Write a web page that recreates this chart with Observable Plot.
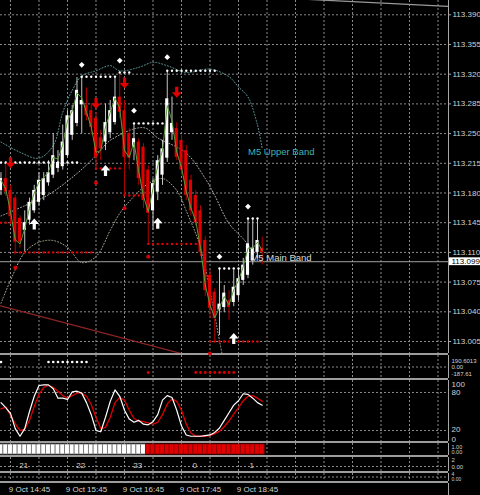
<!DOCTYPE html>
<html>
<head>
<meta charset="utf-8">
<script src="https://cdn.jsdelivr.net/npm/d3@7"></script>
<script src="https://cdn.jsdelivr.net/npm/@observablehq/plot@0.6"></script>
<style>
  html, body { margin: 0; padding: 0; background: #000; }
  #chart { width: 480px; height: 495px; overflow: hidden; background: #000; }
  #chart svg { display: block; }
  .sep { height: 2px; width: 448px; background: #9c9c9c; }
</style>
</head>
<body>
<div id="chart"></div>
<script>
// ---------- USDJPY M5, 9 Oct ----------
const barStart = Date.UTC(2018, 9, 9, 14, 40);   // first visible M5 bar
const barMinutes = 5;
const visibleBars = [-0.105, 94.21];                // left / right edge of the window, in bars

const open  = [113.183,113.197,113.183,113.174,113.150,113.136,113.148,113.159,113.169,113.177,
               113.192,113.201,113.209,113.211,113.224,113.248,113.262,113.284,113.283,113.277,
               113.268,113.245,113.240,113.251,113.263,113.293,113.277,113.250,113.234,113.240,
               113.234,113.207,113.159,113.181,113.201,113.221,113.251,113.256,113.242,113.230,
               113.195,113.177,113.159,113.124,113.083,113.063,113.042,113.045,113.053,113.051,
               113.059,113.077,113.083,113.100,113.110,113.115];
const high  = [113.204,113.216,113.189,113.177,113.153,113.159,113.174,113.189,113.204,113.204,
               113.218,113.250,113.230,113.260,113.277,113.283,113.316,113.317,113.304,113.285,
               113.275,113.254,113.285,113.289,113.315,113.322,113.289,113.256,113.262,113.244,
               113.238,113.212,113.197,113.224,113.242,113.324,113.293,113.263,113.248,113.236,
               113.201,113.183,113.165,113.129,113.089,113.067,113.091,113.071,113.065,113.089,
               113.091,113.103,113.150,113.150,113.150,113.128];
const low   = [113.177,113.176,113.145,113.110,113.115,113.110,113.142,113.156,113.165,113.171,
               113.188,113.197,113.204,113.207,113.221,113.242,113.258,113.250,113.265,113.248,
               113.209,113.218,113.230,113.244,113.260,113.268,113.177,113.207,113.218,113.189,
               113.162,113.120,113.136,113.171,113.189,113.216,113.242,113.218,113.201,113.171,
               113.153,113.141,113.105,113.058,113.032,113.005,113.012,113.039,113.030,113.046,
               113.053,113.071,113.079,113.095,113.103,113.095];
const close = [113.197,113.181,113.152,113.122,113.122,113.145,113.169,113.183,113.195,113.197,
               113.204,113.224,113.216,113.240,113.271,113.277,113.301,113.289,113.271,113.257,
               113.222,113.232,113.263,113.277,113.293,113.275,113.222,113.221,113.244,113.197,
               113.171,113.156,113.191,113.218,113.232,113.291,113.262,113.222,113.207,113.177,
               113.159,113.145,113.110,113.065,113.044,113.032,113.049,113.062,113.045,113.069,
               113.079,113.095,113.120,113.115,113.124,113.110];
const fastMA = [113.195,113.185,113.158,113.125,113.120,113.138,113.162,113.180,113.193,113.198,
                113.205,113.222,113.220,113.237,113.265,113.277,113.298,113.292,113.275,113.258,
                113.228,113.230,113.258,113.275,113.292,113.280,113.230,113.222,113.240,113.205,
                113.176,113.158,113.185,113.212,113.230,113.283,113.265,113.228,113.210,113.182,
                113.162,113.147,113.115,113.072,113.048,113.033,113.045,113.058,113.048,113.066,
                113.077,113.093,113.115,113.115,113.122,113.112];
const bid = 113.099;

const priceTicks = [113.390,113.355,113.320,113.285,113.250,113.215,113.180,113.145,113.110,113.075,113.040,113.005];

// Bollinger bands (M5)
const upperBars   = [0,4,8,11,13,15,17,20,23,25,29,32,35,39,44,48,50,52,54,55];
const upperPrices = [113.240,113.228,113.221,113.236,113.275,113.301,113.318,113.324,113.330,113.324,
                     113.328,113.334,113.330,113.322,113.326,113.317,113.305,113.293,113.260,113.232];
const mainBars    = [0,5,10,16,20,23,30,33,39,43,45,48,51,53,55];
const mainPrices  = [113.153,113.165,113.178,113.203,113.224,113.242,113.257,113.245,113.227,113.197,
                     113.177,113.144,113.126,113.112,113.103];
const lowerBars   = [0,2,5,8,11,14,17,20,23,25,28,31,34,37,39,42,44,46,47];
const lowerPrices = [113.050,113.077,113.110,113.122,113.124,113.116,113.098,113.105,113.136,113.156,
                     113.176,113.191,113.197,113.183,113.159,113.116,113.065,113.006,112.977];
const bandLabels  = ["M5 Upper Band", "M5 Main Band"];
const bandLabelBars = [52, 52.5];
const bandLabelPrices = [113.228, 113.103];

// trend lines [bar, price]
const greyTrend = [[60, 113.4094], [94.21, 113.400]];
const redTrend  = [[-0.105, 113.047], [37.8, 112.991]];

// resistance / support levels
const resistFrom  = [0, 17, 25, 28, 35, 46, 52];
const resistTo    = [16, 24, 27, 34, 45, 50, 54];
const resistPrice = [113.216, 113.317, 113.322, 113.262, 113.324, 113.091, 113.150];
const supportFrom  = [0, 3, 20, 26, 31, 44];
const supportTo    = [2, 19, 25, 29, 41, 54];
const supportPrice = [113.145, 113.110, 113.209, 113.177, 113.120, 113.005];

const diamondBars   = [17, 25, 28, 35, 46, 52];
const diamondPrices = [113.331, 113.336, 113.277, 113.340, 113.105, 113.164];
const redDotBars    = [3, 20, 26, 31, 44];
const redDotPrices  = [113.092, 113.192, 113.162, 113.105, 112.991];
const sellBars   = [2, 20, 26, 37];
const sellPrices = [113.215, 113.285, 113.309, 113.298];
const buyBars    = [7, 22, 33, 49];
const buyPrices  = [113.144, 113.207, 113.145, 113.009];

// signal strip (upper window)
const signalUpBars   = [0, 10, 11, 12, 13, 14, 15, 16, 17, 18];
const signalDownBars = [31, 41, 42, 43, 44, 45, 46, 47, 48, 49];
const signalScale = ["190.6013", "0.00", "-187.61"];

// stochastic
const stochK = [64,56,47,23,11,23,50,74,91,92, 92,86,71,71,69,81,82,79,64,45,
                20,18,41,66,84,74,52,38,33,36, 30,29,34,45,68,75,72,52,27,13,
                11,11,11,12,13,17,24,36,48,60, 67,78,77,71,64,60];
const stochD = [54,57,44,31,20,22,36,58,77,88, 91,88,82,75,71,75,79,79,74,61,
                41,23,25,41,64,72,68,52,39,35, 34,32,30,33,45,62,70,66,52,30,
                16,11,11,11,12,15,19,26,35,46, 56,67,74,75,71,66];
const stochLevels = [100, 80, 20, 0];

// trend state strip: bars up to this index are "up"
const lastUpBar = 30;

// hour row
const hourLabels = ["21", "22", "23", "0", "1"];
const hourTimes  = ["15:04", "16:04", "17:04", "18:04", "19:04"];

// time axis
const timeLabels = ["9 Oct 14:45", "9 Oct 15:45", "9 Oct 16:45", "9 Oct 17:45", "9 Oct 18:45"];
const timeTicks  = ["14:45", "15:45", "16:45", "17:45", "18:45"];

// ---------- helpers ----------
const BAR_MS = barMinutes * 60000;
const barTime = (i) => new Date(barStart + i * BAR_MS);
const clock = (s) => { const [h, m] = s.split(":").map(Number); return new Date(Date.UTC(2018, 9, 9, h, m)); };
const xDomain = visibleBars.map(barTime);
const xEnd = xDomain[1];
const gridTimes = d3.utcMinute.range(clock("14:50"), xEnd, 30);

const FONT = "'Liberation Sans', Arial, sans-serif";
const AXIS = "#d2d2d2";
const GRID = {stroke: "#8a8a8a", strokeDasharray: "2,2", strokeWidth: 1};
const DOTTED = {strokeDasharray: "1,2", strokeWidth: 1, curve: "catmull-rom", clip: true};

const candles = open.map((o, i) => ({t: barTime(i), o, h: high[i], l: low[i], c: close[i], up: close[i] >= o, ma: fastMA[i]}));
const pts = (bars, prices) => bars.map((b, k) => ({t: barTime(b), p: prices[k]}));
const levelDots = (from, to, price) => from.flatMap((f, k) => d3.range(f, to[k] + 1).map(b => ({t: barTime(b), p: price[k]})));

// arrow glyphs
const arrowDown = {draw(ctx, size) {
  const k = Math.sqrt(size / Math.PI) / 5;
  ctx.moveTo(-1.6 * k, -6 * k); ctx.lineTo(1.6 * k, -6 * k); ctx.lineTo(1.6 * k, -0.5 * k);
  ctx.lineTo(4.8 * k, -0.5 * k); ctx.lineTo(0, 5 * k); ctx.lineTo(-4.8 * k, -0.5 * k);
  ctx.lineTo(-1.6 * k, -0.5 * k); ctx.closePath();
}};
const arrowUp = {draw(ctx, size) {
  const k = Math.sqrt(size / Math.PI) / 5;
  ctx.moveTo(-1.6 * k, 6 * k); ctx.lineTo(1.6 * k, 6 * k); ctx.lineTo(1.6 * k, 0.5 * k);
  ctx.lineTo(4.8 * k, 0.5 * k); ctx.lineTo(0, -5 * k); ctx.lineTo(-4.8 * k, 0.5 * k);
  ctx.lineTo(-1.6 * k, 0.5 * k); ctx.closePath();
}};

function panel(height, y, marks, grid = true) {
  return Plot.plot({
    width: 480, height,
    marginLeft: 0, marginRight: 32, marginTop: 0, marginBottom: 0,
    style: {background: "#000", color: AXIS, fontFamily: FONT, fontSize: "8px", overflow: "visible"},
    x: {type: "utc", domain: xDomain, axis: null},
    y: {...y, axis: null},
    marks: [
      grid ? Plot.ruleX(gridTimes, GRID) : null,
      ...marks,
      Plot.ruleX([xEnd], {stroke: "#a8a8a8"})
    ]
  });
}
const rightLabels = (values, texts, dys, size = 8) =>
  values.map((v, k) => Plot.text([v], {x: xEnd, y: (d) => d, text: () => texts[k], textAnchor: "start", dx: 3, dy: dys[k], fill: AXIS, fontSize: size}));

const chart = document.getElementById("chart");
const sep = () => { const d = document.createElement("div"); d.className = "sep"; return d; };

// ---------- price window ----------
const bodyHalf = 0.33 * BAR_MS;
const tickEnd = barTime(visibleBars[1] + 0.65);
const boxEnd = barTime(visibleBars[1] + 7);
const main = panel(353, {domain: [112.99086, 113.40684]}, [
  Plot.ruleY(priceTicks, GRID),
  Plot.ruleY(priceTicks, {x1: xEnd, x2: tickEnd, stroke: "#a8a8a8"}),
  Plot.text(priceTicks, {x: xEnd, y: (d) => d, text: (d) => d.toFixed(3), textAnchor: "start", dx: 4, fill: AXIS, fontSize: 8}),
  Plot.line(greyTrend, {x: (d) => barTime(d[0]), y: (d) => d[1], stroke: "#9a9a9a", strokeWidth: 1.2, clip: true}),
  Plot.line(redTrend, {x: (d) => barTime(d[0]), y: (d) => d[1], stroke: "#8e2424", strokeWidth: 1.2, clip: true}),
  Plot.line(pts(upperBars, upperPrices), {x: "t", y: "p", stroke: "#5f9e9e", ...DOTTED}),
  Plot.line(pts(mainBars, mainPrices), {x: "t", y: "p", stroke: "#b4b4b4", ...DOTTED}),
  Plot.line(pts(lowerBars, lowerPrices), {x: "t", y: "p", stroke: "#a8a894", ...DOTTED}),
  Plot.ruleY([bid], {stroke: "#a0a0a0"}),
  Plot.ruleX(candles, {x: "t", y1: "l", y2: "h", stroke: (d) => d.up ? "#c4c4c4" : "#b40000"}),
  Plot.rect(candles, {x1: (d) => new Date(+d.t - bodyHalf), x2: (d) => new Date(+d.t + bodyHalf), y1: "o", y2: "c",
                      fill: (d) => d.up ? "#ffffff" : "#e00000"}),
  Plot.line(candles, {x: "t", y: "ma", stroke: "#5a9c3c", strokeWidth: 1}),
  Plot.dot(levelDots(resistFrom, resistTo, resistPrice), {x: "t", y: "p", r: 1.2, fill: "#ffffff"}),
  Plot.dot(levelDots(supportFrom, supportTo, supportPrice), {x: "t", y: "p", r: 1.2, fill: "#e00000"}),
  Plot.dot(pts(diamondBars, diamondPrices), {x: "t", y: "p", symbol: "diamond2", r: 2.6, fill: "#ffffff"}),
  Plot.dot(pts(redDotBars, redDotPrices), {x: "t", y: "p", r: 2, fill: "#e00000"}),
  Plot.dot(pts(sellBars, sellPrices), {x: "t", y: "p", symbol: arrowDown, r: 5, fill: "#e00000"}),
  Plot.dot(pts(buyBars, buyPrices), {x: "t", y: "p", symbol: arrowUp, r: 5, fill: "#ffffff"}),
  Plot.text(bandLabels, {x: (d, i) => barTime(bandLabelBars[i]), y: (d, i) => bandLabelPrices[i], text: (d) => d,
                         textAnchor: "start", fontSize: 9.5, fill: (d, i) => i === 0 ? "#3fb4b4" : "#d8d8d8"}),
  Plot.rect([bid], {x1: xEnd, x2: boxEnd, y1: (d) => d - 0.0046, y2: (d) => d + 0.0046, fill: "#ffffff"}),
  Plot.text([bid], {x: xEnd, y: (d) => d, text: (d) => d.toFixed(3), textAnchor: "start", dx: 3, fill: "#000", fontSize: 8})
]);
chart.append(main, sep());

// ---------- signal window ----------
const signal = panel(23, {domain: [-210, 210], range: [23, 0]}, [
  Plot.ruleY([0], GRID),
  Plot.dot(signalUpBars, {x: (b) => barTime(b), y: () => 90, r: 1.3, fill: "#ffffff"}),
  Plot.dot(signalDownBars, {x: (b) => barTime(b), y: () => -100, r: 1.4, fill: "#e00000"}),
  ...rightLabels([190.6013, 0, -187.61], signalScale, [4.5, 0, -3.5], 6)
]);
chart.append(signal, sep());

// ---------- stochastic window ----------
const stoch = panel(61, {domain: [0, 100], range: [62.7, -0.7]}, [
  Plot.ruleY([80, 20], GRID),
  Plot.line(candles, {x: "t", y: (d, i) => stochD[i], stroke: "#e00000", strokeWidth: 1.3}),
  Plot.line(candles, {x: "t", y: (d, i) => stochK[i], stroke: "#ffffff", strokeWidth: 1.2}),
  ...rightLabels(stochLevels, stochLevels.map(String), [4.2, 0, -1, -4])
]);
chart.append(stoch, sep());

// ---------- trend state strip ----------
const trend = panel(12, {domain: [0, 1], range: [11, 1]}, [
  Plot.rect(candles, {x1: (d) => new Date(+d.t - BAR_MS / 2), x2: (d) => new Date(+d.t + BAR_MS / 2), y1: () => 0, y2: () => 1,
                      fill: (d, i) => i <= lastUpBar ? "#ffffff" : "#e00000",
                      stroke: (d, i) => i <= lastUpBar ? "#707070" : "#8a0000", strokeWidth: 0.8}),
  ...rightLabels([1, 0], ["1.00", "0.00"], [2.5, -2.5], 5.5)
]);
chart.append(trend, sep());

// ---------- hour row ----------
const hours = panel(14, {domain: [0, 2], range: [9, 3]}, [
  Plot.ruleY([0], GRID),
  Plot.text(hourLabels, {x: (d, i) => clock(hourTimes[i]), frameAnchor: "top", dy: 4.5, text: (d) => d, fill: AXIS, fontSize: 8}),
  ...rightLabels([2, 0], ["2", "0.00"], [-0.5, 1], 6)
]);
chart.append(hours, sep());

// ---------- bottom strip ----------
const strip = panel(8, {domain: [0, 4], range: [5.5, 1.5]}, [
  Plot.ruleY([2], GRID),
  ...rightLabels([4, 0], ["4", "0.00"], [-0.5, 0.5], 5)
]);
chart.append(strip, sep());

// ---------- time axis ----------
const axis = panel(12, {domain: [0, 1]}, [
  Plot.text(timeLabels, {x: (d, i) => clock(timeTicks[i]), frameAnchor: "middle", dy: -0.5, dx: 3, text: (d) => d,
                         textAnchor: "start", fill: AXIS, fontSize: 8})
], false);
chart.append(axis);
</script>
</body>
</html>
